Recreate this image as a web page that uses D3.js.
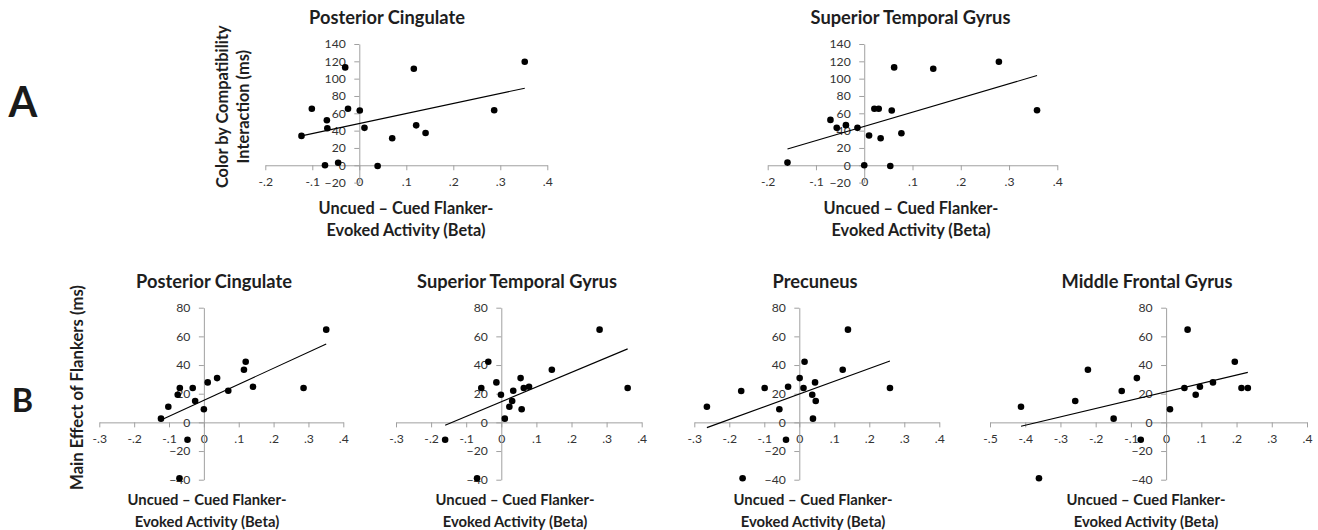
<!DOCTYPE html>
<html><head><meta charset="utf-8">
<script src="https://cdn.jsdelivr.net/npm/d3@7"></script>
<style>
body{margin:0;background:#fff}
svg{display:block}
text{font-family:Lato,"Open Sans",sans-serif}
</style>
</head><body>
<svg id="c" width="1318" height="530"></svg>
<script>
// ---------- data ----------
const titlesA = ["Posterior Cingulate", "Superior Temporal Gyrus"];
const titlesB = ["Posterior Cingulate", "Superior Temporal Gyrus", "Precuneus", "Middle Frontal Gyrus"];
const xTitleLines = ["Uncued \u2013 Cued Flanker-", "Evoked Activity (Beta)"];
const yTitleA = ["Color by Compatibility", "Interaction (ms)"];
const yTitleB = ["Main Effect of Flankers (ms)"];
const panelLetters = ["A", "B"];

const xTicksA = [-0.2, -0.1, 0, 0.1, 0.2, 0.3, 0.4];
const xTickLabelsA = ["-.2", "-.1", "0", ".1", ".2", ".3", ".4"];
const xTicksB = [-0.3, -0.2, -0.1, 0, 0.1, 0.2, 0.3, 0.4];
const xTickLabelsB = ["-.3", "-.2", "-.1", "0", ".1", ".2", ".3", ".4"];
const xTicksB4 = [-0.5, -0.4, -0.3, -0.2, -0.1, 0, 0.1, 0.2, 0.3, 0.4];
const xTickLabelsB4 = ["-.5", "-.4", "-.3", "-.2", "-.1", "0", ".1", ".2", ".3", ".4"];
const yTicksA = [-20, 0, 20, 40, 60, 80, 100, 120, 140];
const yTicksB = [-40, -20, 0, 20, 40, 60, 80];

// Panel A1: Posterior Cingulate
const a1X = [-0.123, -0.101, -0.069, -0.068, -0.073, -0.045, -0.030, -0.024, 0.001, 0.011, 0.039, 0.070, 0.116, 0.121, 0.141, 0.287, 0.352];
const a1Y = [33.9, 65.2, 52, 42.8, 0, 3, 113, 65.2, 63.2, 43.2, -0.8, 31.2, 111.5, 46.1, 37.2, 63.6, 119.5];
// Panel A2: Superior Temporal Gyrus
const a2X = [-0.159, -0.070, -0.057, -0.038, -0.014, 0.000, 0.010, 0.021, 0.030, 0.034, 0.057, 0.054, 0.062, 0.077, 0.143, 0.279, 0.358];
const a2Y = [3.1, 52.4, 43.2, 46.3, 43.2, 0, 34.3, 65.2, 65.2, 31.2, 63.2, -0.8, 113, 37, 111.5, 119.5, 63.6];
// Panel B1: Posterior Cingulate
const b1X = [-0.123, -0.102, -0.075, -0.069, -0.032, -0.025, -0.047, -0.070, 0.000, 0.011, 0.038, 0.070, 0.115, 0.120, 0.141, 0.286, 0.351];
const b1Y = [2.6, 10.9, 19.3, 24, 24, 14.9, -12.1, -39, 9.1, 27.9, 30.9, 22.1, 36.7, 42.3, 24.9, 24, 64.7];
// Panel B2: Superior Temporal Gyrus
const b2X = [-0.160, -0.057, -0.037, -0.014, -0.001, 0.010, 0.023, 0.031, 0.034, 0.055, 0.058, 0.064, 0.079, 0.144, 0.280, 0.360, -0.069];
const b2Y = [-12.1, 24, 42.3, 27.9, 19.3, 2.6, 10.9, 14.9, 22.1, 30.9, 9.1, 24, 24.9, 36.7, 64.7, 24, -39];
// Panel B3: Precuneus
const b3X = [-0.264, -0.166, -0.162, -0.099, -0.057, -0.038, -0.032, 0.001, 0.012, 0.015, 0.037, 0.039, 0.045, 0.047, 0.124, 0.139, 0.259];
const b3Y = [10.9, 21.9, -39, 24, 9.1, -12.1, 24.9, 30.9, 24, 42.3, 19.3, 2.6, 27.9, 14.9, 36.7, 64.7, 24];
// Panel B4: Middle Frontal Gyrus
const b4X = [-0.412, -0.361, -0.258, -0.222, -0.149, -0.126, -0.083, -0.072, 0.011, 0.052, 0.061, 0.084, 0.096, 0.133, 0.195, 0.214, 0.232];
const b4Y = [10.9, -39, 14.9, 36.7, 2.6, 21.9, 30.9, -12.1, 9.1, 24, 64.7, 19.3, 24.9, 27.9, 42.3, 24, 24];

// ---------- layout ----------
const svg = d3.select("#c");
const FONT = "Lato, 'Open Sans', sans-serif";
const AXIS_COLOR = "#a0a0a0";
const TICK_COLOR = "#333333";
const TEXT_COLOR = "#1e1e1e";

// fit a font size so that the sample text reaches a target width
function fitSize(sample, weight, target) {
  const t = svg.append("text").attr("font-size", 100).attr("font-weight", weight).text(sample);
  const w = t.node().getComputedTextLength();
  t.remove();
  return 100 * target / w;
}
const titleSize = fitSize(titlesA[0], "bold", 156);
const xTitleSizeA = fitSize(xTitleLines[0], "bold", 175);
const xTitleSizeB = fitSize(xTitleLines[0], "bold", 159);
const yTitleSizeA = fitSize(yTitleA[0], "bold", 163);
const yTitleSizeB = fitSize(yTitleB[0], "bold", 205);
const tickSize = 12.2;

const panels = [
  {title: titlesA[0], xs: a1X, ys: a1Y, xDom: [-0.2, 0.4], xRange: [265.3, 547.3], yDom: [-20, 140], yRange: [182.6, 44],
   xTicks: xTicksA, xLabels: xTickLabelsA, yTicks: yTicksA, titleX: 387, titleY: 24, xtX: 406, xtY: [213.5, 235.5], xtSize: xTitleSizeA},
  {title: titlesA[1], xs: a2X, ys: a2Y, xDom: [-0.2, 0.4], xRange: [767.7, 1057.3], yDom: [-20, 140], yRange: [182.6, 44],
   xTicks: xTicksA, xLabels: xTickLabelsA, yTicks: yTicksA, titleX: 910.5, titleY: 24, xtX: 911, xtY: [213.5, 235.5], xtSize: xTitleSizeA},
  {title: titlesB[0], xs: b1X, ys: b1Y, xDom: [-0.3, 0.4], xRange: [99.3, 343.3], yDom: [-40, 80], yRange: [479.7, 307.7],
   xTicks: xTicksB, xLabels: xTickLabelsB, yTicks: yTicksB, titleX: 214, titleY: 287.5, xtX: 207, xtY: [505, 527], xtSize: xTitleSizeB},
  {title: titlesB[1], xs: b2X, ys: b2Y, xDom: [-0.3, 0.4], xRange: [396, 641.7], yDom: [-40, 80], yRange: [479.7, 307.7],
   xTicks: xTicksB, xLabels: xTickLabelsB, yTicks: yTicksB, titleX: 517, titleY: 287.5, xtX: 515, xtY: [505, 527], xtSize: xTitleSizeB},
  {title: titlesB[2], xs: b3X, ys: b3Y, xDom: [-0.3, 0.4], xRange: [694.3, 939.3], yDom: [-40, 80], yRange: [479.7, 307.7],
   xTicks: xTicksB, xLabels: xTickLabelsB, yTicks: yTicksB, titleX: 815, titleY: 287.5, xtX: 813, xtY: [505, 527], xtSize: xTitleSizeB},
  {title: titlesB[3], xs: b4X, ys: b4Y, xDom: [-0.5, 0.4], xRange: [990, 1307], yDom: [-40, 80], yRange: [479.7, 307.7],
   xTicks: xTicksB4, xLabels: xTickLabelsB4, yTicks: yTicksB, titleX: 1147, titleY: 287.5, xtX: 1146, xtY: [505, 527], xtSize: xTitleSizeB}
];

function linreg(xs, ys) {
  const mx = d3.mean(xs), my = d3.mean(ys);
  let sxy = 0, sxx = 0;
  xs.forEach((x, i) => { sxy += (x - mx) * (ys[i] - my); sxx += (x - mx) * (x - mx); });
  const b = sxy / sxx;
  return {b, a: my - b * mx};
}

panels.forEach(p => {
  const x = d3.scaleLinear().domain(p.xDom).range(p.xRange);
  const y = d3.scaleLinear().domain(p.yDom).range(p.yRange);
  const g = svg.append("g");

  // x axis (crosses at y = 0)
  const xa = g.append("g").attr("transform", `translate(0,${y(0)})`)
    .call(d3.axisBottom(x).tickValues(p.xTicks).tickFormat((d, i) => p.xLabels[i]).tickSize(5).tickSizeOuter(0).tickPadding(7));
  // y axis (crosses at x = 0)
  const ya = g.append("g").attr("transform", `translate(${x(0)},0)`)
    .call(d3.axisLeft(y).tickValues(p.yTicks).tickFormat(d3.format("d")).tickSize(5).tickSizeOuter(0).tickPadding(8.5));
  [xa, ya].forEach(a => {
    a.select(".domain").attr("stroke", AXIS_COLOR);
    a.selectAll(".tick line").attr("stroke", AXIS_COLOR);
    a.selectAll(".tick text").attr("fill", TICK_COLOR).attr("font-family", FONT).attr("font-size", tickSize);
  });

  // trend line
  const r = linreg(p.xs, p.ys);
  const ext = d3.extent(p.xs);
  g.append("line")
    .attr("x1", x(ext[0])).attr("y1", y(r.a + r.b * ext[0]))
    .attr("x2", x(ext[1])).attr("y2", y(r.a + r.b * ext[1]))
    .attr("stroke", "#000").attr("stroke-width", 1.1);

  // points
  g.selectAll("circle").data(p.xs.map((v, i) => [v, p.ys[i]])).join("circle")
    .attr("cx", d => x(d[0])).attr("cy", d => y(d[1])).attr("r", 3.3).attr("fill", "#000");

  // title
  g.append("text").attr("x", p.titleX).attr("y", p.titleY).attr("text-anchor", "middle")
    .attr("font-weight", "bold").attr("font-size", titleSize).attr("fill", TEXT_COLOR).text(p.title);
  // x axis title
  xTitleLines.forEach((t, i) => {
    g.append("text").attr("x", p.xtX).attr("y", p.xtY[i]).attr("text-anchor", "middle")
      .attr("font-weight", "bold").attr("font-size", p.xtSize).attr("fill", TEXT_COLOR).text(t);
  });
});

// y axis titles
const yA = svg.append("text").attr("transform", "translate(0,106.7) rotate(-90)")
  .attr("text-anchor", "middle").attr("font-weight", "bold").attr("font-size", yTitleSizeA).attr("fill", TEXT_COLOR);
yA.append("tspan").attr("x", 0).attr("y", 227.5).text(yTitleA[0]);
yA.append("tspan").attr("x", 0).attr("y", 248.5).text(yTitleA[1]);
svg.append("text").attr("transform", "translate(83,387.5) rotate(-90)")
  .attr("text-anchor", "middle").attr("font-weight", "bold").attr("font-size", yTitleSizeB).attr("fill", TEXT_COLOR)
  .text(yTitleB[0]);

// panel letters
svg.append("text").attr("x", 22.8).attr("y", 117.3).attr("text-anchor", "middle")
  .attr("font-weight", "bold").attr("font-size", 41.5).attr("fill", "#1a1a1a").text(panelLetters[0]);
svg.append("text").attr("x", 22.5).attr("y", 411.7).attr("text-anchor", "middle")
  .attr("font-weight", "bold").attr("font-size", 32.5).attr("fill", "#1a1a1a").text(panelLetters[1]);
</script>
</body></html>
